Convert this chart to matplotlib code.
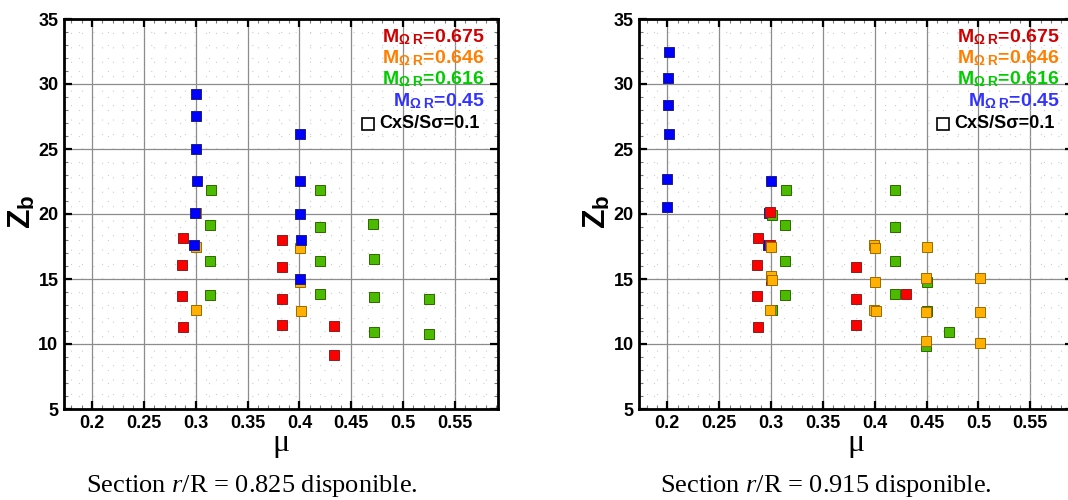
import matplotlib.pyplot as plt
from matplotlib.ticker import MultipleLocator

plt.rcParams['font.family'] = ['Liberation Sans', 'DejaVu Sans']
plt.rcParams['font.weight'] = 'bold'
plt.rcParams['mathtext.fontset'] = 'custom'
plt.rcParams['mathtext.rm'] = 'Liberation Sans:weight=bold'
plt.rcParams['mathtext.bf'] = 'Liberation Sans:weight=bold'
plt.rcParams['mathtext.it'] = 'Liberation Serif:style=italic:weight=normal'

# ---- data: section r/R = 0.825 (left) ----
left_red_x = [0.288, 0.287, 0.287, 0.288, 0.383, 0.383, 0.383, 0.383, 0.433, 0.433]
left_red_y = [18.18, 16.06, 13.68, 11.33, 18.03, 15.96, 13.48, 11.46, 11.38, 9.18]

left_orange_x = [0.3007, 0.300, 0.3007, 0.4009, 0.4019, 0.4009]
left_orange_y = [17.49, 12.61, 20.05, 17.39, 12.56, 14.76]

left_green_x = [0.315, 0.314, 0.314, 0.314, 0.420, 0.420, 0.420, 0.420,
                0.471, 0.472, 0.472, 0.472, 0.525, 0.525]
left_green_y = [21.84, 19.13, 16.39, 13.76, 21.84, 18.98, 16.39, 13.84,
                19.26, 16.55, 13.63, 10.90, 13.45, 10.77]

left_blue_x = [0.300, 0.300, 0.300, 0.301, 0.2993, 0.2983,
               0.4009, 0.4002, 0.4009, 0.4019, 0.4009]
left_blue_y = [29.23, 27.54, 24.99, 22.56, 20.05, 17.65,
               26.19, 22.56, 19.97, 17.98, 14.99]

# ---- data: section r/R = 0.915 (right) ----
right_blue_x = [0.2019, 0.2009, 0.2009, 0.2019, 0.1993, 0.1993, 0.3003, 0.2977, 0.297]
right_blue_y = [32.46, 30.46, 28.36, 26.14, 22.66, 20.51, 22.53, 20.05, 17.65]

right_red_x = [0.2872, 0.2862, 0.2862, 0.2872, 0.2993, 0.2993, 0.3003,
               0.3823, 0.3823, 0.3823, 0.4302]
right_red_y = [18.18, 16.06, 13.68, 11.33, 20.13, 17.60, 14.96,
               15.96, 13.48, 11.46, 13.84]

right_orange_x = [0.3994, 0.4004, 0.4004, 0.3994, 0.401, 0.4509, 0.4493, 0.4493,
                  0.4493, 0.5011, 0.5011, 0.5011, 0.3003, 0.301, 0.2993, 0.300]
right_orange_y = [17.60, 17.42, 14.80, 12.61, 12.56, 17.47, 15.04, 12.48,
                  10.23, 15.09, 12.46, 10.05, 15.22, 14.96, 12.61, 17.45]

right_green_x = [0.3141, 0.3135, 0.3135, 0.3135, 0.301, 0.301, 0.4191, 0.4191,
                 0.4191, 0.4191, 0.4509, 0.4509, 0.4713, 0.4493]
right_green_y = [21.84, 19.13, 16.39, 13.76, 12.61, 19.95, 21.84, 18.98,
                 16.39, 13.84, 14.78, 12.53, 10.90, 9.85]

legend_labels = [r'M$_{\mathrm{\Omega\ R}}$=0.675', r'M$_{\mathrm{\Omega\ R}}$=0.646',
                 r'M$_{\mathrm{\Omega\ R}}$=0.616', r'M$_{\mathrm{\Omega\ R}}$=0.45']
legend_colors = ['#d00000', '#ff7f00', '#00cc00', '#3333ff']
captions = ['Section $r$/R = 0.825 disponible.', 'Section $r$/R = 0.915 disponible.']

fill = {'red': '#ff0000', 'orange': '#ffb000', 'green': '#4cbb00', 'blue': '#0000ff'}
edge = {'red': '#8a2020', 'orange': '#9a6a00', 'green': '#2c6a00', 'blue': '#202080'}


def draw_points(ax, x, y, name):
    ax.plot(x, y, linestyle='none', marker='s', markersize=7,
            markerfacecolor=fill[name], markeredgecolor=edge[name],
            markeredgewidth=0.7, zorder=3)


def style_axes(ax):
    ax.set_xlim(0.173, 0.5915)
    ax.set_ylim(5, 35)
    ax.xaxis.set_minor_locator(MultipleLocator(0.01))
    ax.yaxis.set_major_locator(MultipleLocator(5))
    ax.yaxis.set_minor_locator(MultipleLocator(1))
    ax.set_xticks([0.2, 0.25, 0.3, 0.35, 0.4, 0.45, 0.5, 0.55])
    ax.set_xticklabels(['0.2', '0.25', '0.3', '0.35', '0.4', '0.45', '0.5', '0.55'])
    ax.grid(which='major', color='#8c8c8c', linewidth=0.9)
    ax.grid(which='minor', color='#cccccc', linewidth=0.8, linestyle=(0, (1, 12)))
    ax.set_axisbelow(True)
    ax.tick_params(which='both', direction='in', top=True, right=True)
    ax.tick_params(which='major', length=6, width=1.6, labelsize=13, pad=4)
    ax.tick_params(which='minor', length=3, width=0.8, color='#777777')
    for lbl in ax.get_xticklabels() + ax.get_yticklabels():
        lbl.set_fontweight('bold')
    for sp in ax.spines.values():
        sp.set_linewidth(2)

    rows = [0.954, 0.900, 0.846, 0.790]
    for lab, col, yy in zip(legend_labels, legend_colors, rows):
        ax.text(0.969, yy, lab, color=col, fontsize=14, fontweight='bold',
                ha='right', va='center', transform=ax.transAxes)
    ax.plot([0.70], [0.732], marker='s', markersize=8, markerfacecolor='white',
            markeredgecolor='black', markeredgewidth=1.2, transform=ax.transAxes,
            clip_on=False)
    ax.text(0.957, 0.732, 'CxS/Sσ=0.1', color='black', fontsize=13,
            fontweight='bold', ha='right', va='center', transform=ax.transAxes)


fig = plt.figure(figsize=(10.68, 5.0), dpi=100)

ax1 = fig.add_axes([64 / 1068, 91 / 500, 434 / 1068, 390 / 500])
ax2 = fig.add_axes([639.3 / 1068, 91 / 500, 434 / 1068, 390 / 500])

draw_points(ax1, left_red_x, left_red_y, 'red')
draw_points(ax1, left_orange_x, left_orange_y, 'orange')
draw_points(ax1, left_green_x, left_green_y, 'green')
draw_points(ax1, left_blue_x, left_blue_y, 'blue')

draw_points(ax2, right_blue_x, right_blue_y, 'blue')
draw_points(ax2, right_green_x, right_green_y, 'green')
draw_points(ax2, right_red_x, right_red_y, 'red')
draw_points(ax2, right_orange_x, right_orange_y, 'orange')

for ax, cx, zx, cap in [(ax1, 281, 22, captions[0]), (ax2, 856, 597, captions[1])]:
    style_axes(ax)
    fig.text(zx / 1068, 1 - 212 / 500, r'Z$_\mathrm{b}$', fontsize=23,
             fontweight='bold', rotation=90, ha='center', va='center')
    fig.text(cx / 1068, 1 - 443 / 500, 'μ', fontsize=23, fontweight='normal',
             family='Liberation Serif', ha='center', va='center')

fig.text(252 / 1068, 1 - 486 / 500, captions[0], fontsize=19, fontweight='normal',
         family='Liberation Serif', ha='center', va='center')
fig.text(826 / 1068, 1 - 486 / 500, captions[1], fontsize=19, fontweight='normal',
         family='Liberation Serif', ha='center', va='center')

fig.savefig('out.png', dpi=100)
